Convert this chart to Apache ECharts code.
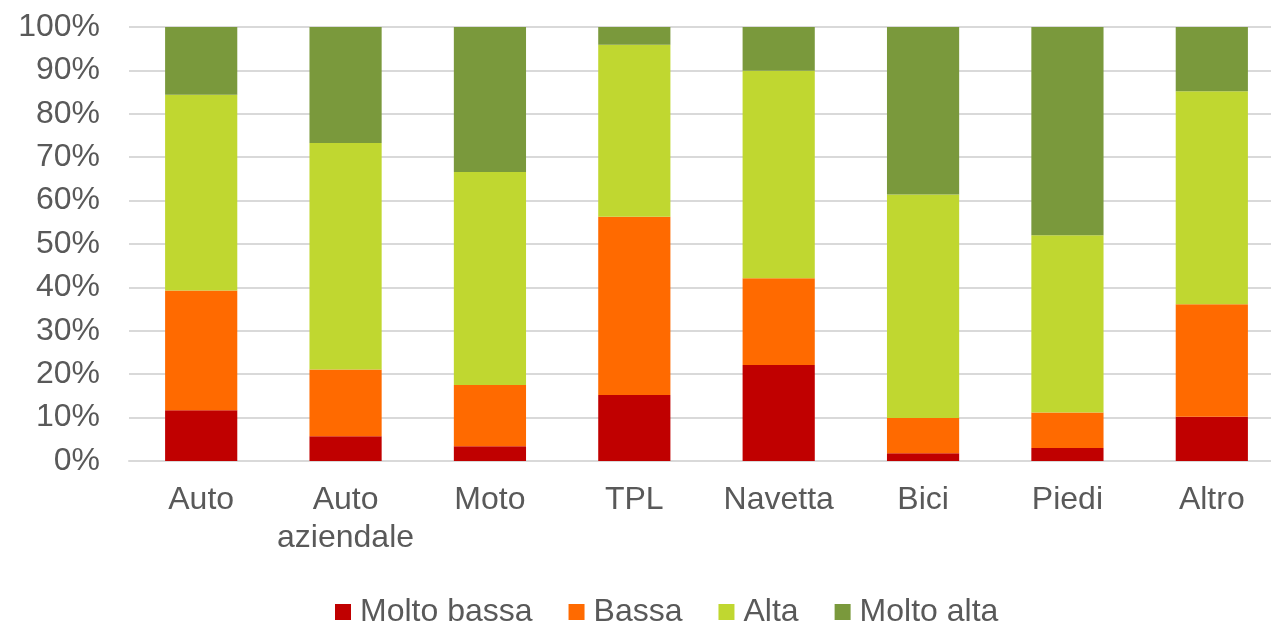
<!DOCTYPE html>
<html>
<head>
<meta charset="utf-8">
<script src="https://cdn.jsdelivr.net/npm/echarts@6/dist/echarts.min.js"></script>
<style>
  html, body { margin: 0; padding: 0; background: #fff; }
  #chart-container { width: 1271px; height: 623px; }
</style>
</head>
<body>
<div id="chart-container"></div>
<script>
var dom = document.getElementById('chart-container');
var myChart = echarts.init(dom, null, { renderer: 'canvas' });

var categories = ['Auto', 'Auto\naziendale', 'Moto', 'TPL', 'Navetta', 'Bici', 'Piedi', 'Altro'];
var seriesNames = ['Molto bassa', 'Bassa', 'Alta', 'Molto alta'];
var moltoBassa = [11.7, 5.7, 3.4, 15.2, 22.1, 1.8, 3.0, 10.2];
var bassa      = [27.6, 15.4, 14.1, 41.1, 20.0, 8.1, 8.2, 25.9];
var alta       = [45.1, 52.2, 49.1, 39.6, 47.8, 51.5, 40.8, 49.1];
var moltoAlta  = [15.6, 26.7, 33.4, 4.1, 10.1, 38.6, 48.0, 14.8];
var colors = ['#C00000', '#FF6A00', '#C0D730', '#7A993C'];

var font = 'Liberation Sans, Arial, sans-serif';
var values = [moltoBassa, bassa, alta, moltoAlta];

var option = {
    animation: false,
    color: colors,
    grid: { left: 129, width: 1155, top: 27, height: 434, outerBoundsMode: 'none', containLabel: false },
    legend: {
        top: 591,
        left: 330,
        itemWidth: 16,
        itemHeight: 16,
        itemGap: 36,
        icon: 'rect',
        textStyle: { fontFamily: font, fontSize: 32, color: '#595959', padding: [0, 0, 0, 4] },
        data: seriesNames
    },
    xAxis: {
        type: 'category',
        data: categories,
        axisLine: { lineStyle: { color: '#D9D9D9', width: 2 } },
        axisTick: { length: 8, lineStyle: { color: '#D9D9D9', width: 2 } },
        axisLabel: {
            interval: 0,
            margin: 20,
            fontFamily: font, fontSize: 32, color: '#595959', lineHeight: 38
        }
    },
    yAxis: {
        type: 'value',
        min: 0, max: 100, interval: 10,
        axisLine: { show: false },
        axisTick: { show: false },
        splitLine: { lineStyle: { color: '#D9D9D9', width: 2 } },
        axisLabel: {
            margin: 29,
            formatter: '{value}%',
            fontFamily: font, fontSize: 32, color: '#595959'
        }
    },
    series: seriesNames.map(function (name, i) {
        return {
            name: name,
            type: 'bar',
            stack: 'total',
            barWidth: '50%',
            data: values[i]
        };
    })
};

myChart.setOption(option);
window.addEventListener('resize', myChart.resize);
</script>
</body>
</html>
